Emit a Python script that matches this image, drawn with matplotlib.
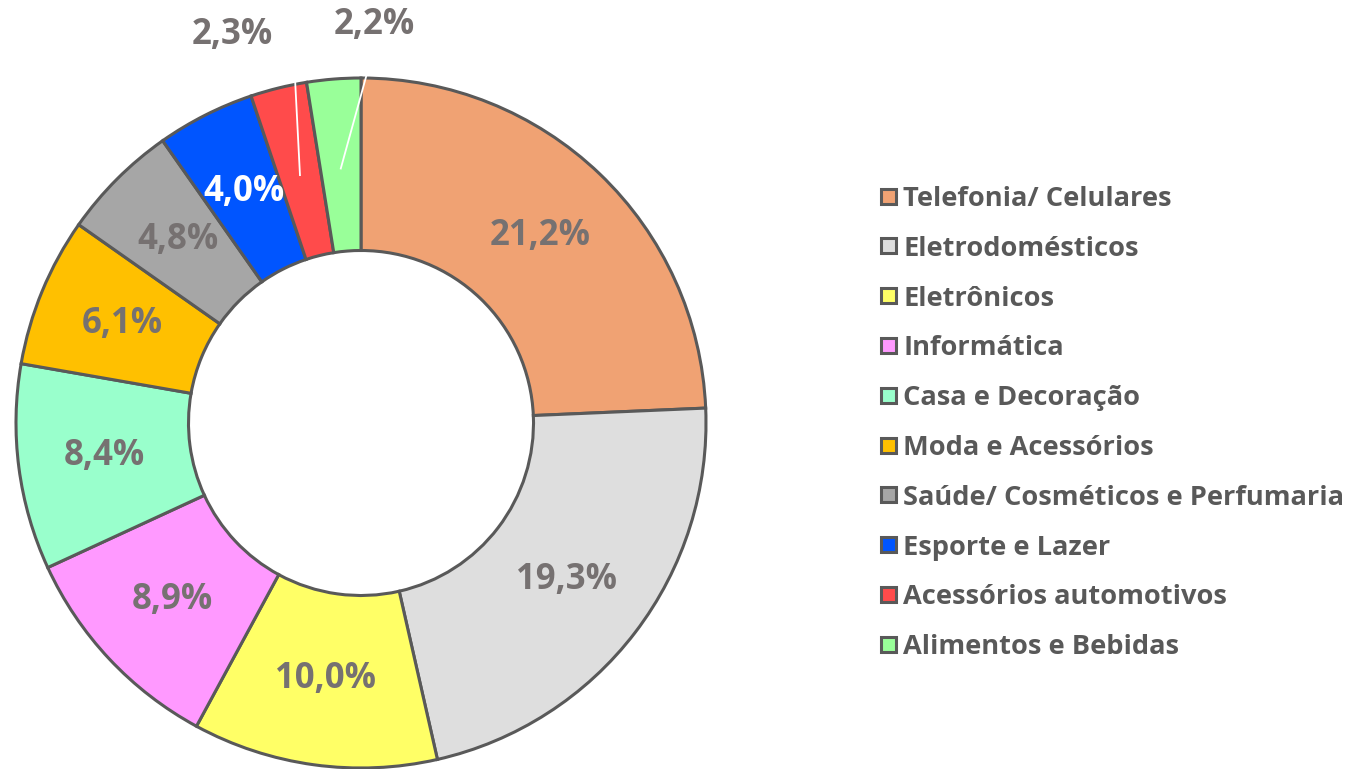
import matplotlib
matplotlib.use("Agg")
import matplotlib.pyplot as plt
from matplotlib.patches import Rectangle
import numpy as np

categories = [
    "Telefonia/ Celulares",
    "Eletrodomésticos",
    "Eletrônicos",
    "Informática",
    "Casa e Decoração",
    "Moda e Acessórios",
    "Saúde/ Cosméticos e Perfumaria",
    "Esporte e Lazer",
    "Acessórios automotivos",
    "Alimentos e Bebidas",
]
shares = [21.2, 19.3, 10.0, 8.9, 8.4, 6.1, 4.8, 4.0, 2.3, 2.2]
colors = ["#F0A273", "#DEDEDE", "#FFFF66", "#FF99FF", "#99FFCC",
          "#FFC000", "#A6A6A6", "#0055FF", "#FF4B4B", "#99FF99"]

W, H, DPI = 1352, 769, 100
cx, cy, R = 361, 423, 345  # pie centre and radius in pixels

plt.rcParams["font.family"] = ["Open Sans", "DejaVu Sans"]
fig = plt.figure(figsize=(W / DPI, H / DPI), dpi=DPI)
ax = fig.add_axes([0, 0, 1, 1])

edge = "#595959"
wedges, _ = ax.pie(shares, colors=colors, startangle=90, counterclock=False,
                   radius=1.0,
                   wedgeprops=dict(width=0.5, edgecolor=edge, linewidth=2.2))

ax.set_aspect("auto")
ax.set_xlim(-cx / R, (W - cx) / R)
ax.set_ylim(-(H - cy) / R, cy / R)
ax.axis("off")

label_color = "#767171"
outside = {8: (-0.374, 1.125), 9: (0.040, 1.153)}
leader_end = {8: (-0.191, 0.993), 9: (0.017, 1.012)}
for i, (w, v) in enumerate(zip(wedges, shares)):
    mid = np.deg2rad((w.theta1 + w.theta2) / 2)
    txt = f"{v:.1f}%".replace(".", ",")
    if i in outside:
        sx, sy = 0.74 * np.cos(mid), 0.74 * np.sin(mid)
        ex, ey = leader_end[i]
        ax.plot([sx, ex], [sy, ey], color="white", lw=1.3, zorder=5)
        tx, ty = outside[i]
        ax.text(tx, ty, txt, ha="center", va="center", fontsize=25,
                fontweight="bold", color=label_color)
    else:
        r = 0.75
        col = "white" if i == 7 else label_color
        ax.text(r * np.cos(mid), r * np.sin(mid), txt, ha="center",
                va="center", fontsize=25, fontweight="bold", color=col)

# legend drawn as rows of square swatches and labels
row0, step = 196, 49.8
for i, (lab, col) in enumerate(zip(categories, colors)):
    yc = row0 + i * step
    fig.patches.append(Rectangle(((881) / W, 1 - (yc + 7.5) / H), 15 / W, 15 / H,
                                 transform=fig.transFigure, facecolor=col,
                                 edgecolor=edge, linewidth=2.2))
    fig.text(903 / W, 1 - yc / H, lab, ha="left", va="center_baseline",
             fontsize=19.6, fontweight="bold", color=edge)

fig.savefig("out.png", dpi=DPI)
